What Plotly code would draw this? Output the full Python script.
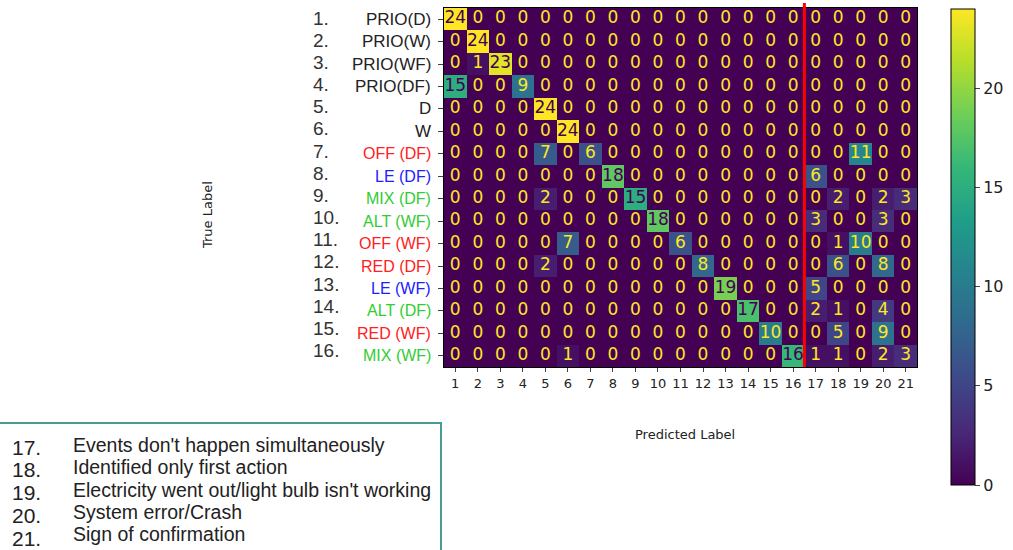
import plotly.graph_objects as go

# Confusion matrix: 16 true classes (rows) x 21 predicted classes (columns)
row_numbers = [f"{i}." for i in range(1, 17)]
row_names = ["PRIO(D)", "PRIO(W)", "PRIO(WF)", "PRIO(DF)", "D", "W",
             "OFF (DF)", "LE (DF)", "MIX (DF)", "ALT (WF)", "OFF (WF)",
             "RED (DF)", "LE (WF)", "ALT (DF)", "RED (WF)", "MIX (WF)"]
row_colors = ["#222222"] * 6 + ["#ff2020", "#2020ff", "#33cc33", "#33cc33",
                                "#ff2020", "#ff2020", "#2020ff", "#33cc33",
                                "#ff2020", "#33cc33"]
col_labels = [str(i) for i in range(1, 22)]

counts = [
    [24, 0, 0, 0, 0, 0, 0, 0, 0, 0, 0, 0, 0, 0, 0, 0, 0, 0, 0, 0, 0],
    [0, 24, 0, 0, 0, 0, 0, 0, 0, 0, 0, 0, 0, 0, 0, 0, 0, 0, 0, 0, 0],
    [0, 1, 23, 0, 0, 0, 0, 0, 0, 0, 0, 0, 0, 0, 0, 0, 0, 0, 0, 0, 0],
    [15, 0, 0, 9, 0, 0, 0, 0, 0, 0, 0, 0, 0, 0, 0, 0, 0, 0, 0, 0, 0],
    [0, 0, 0, 0, 24, 0, 0, 0, 0, 0, 0, 0, 0, 0, 0, 0, 0, 0, 0, 0, 0],
    [0, 0, 0, 0, 0, 24, 0, 0, 0, 0, 0, 0, 0, 0, 0, 0, 0, 0, 0, 0, 0],
    [0, 0, 0, 0, 7, 0, 6, 0, 0, 0, 0, 0, 0, 0, 0, 0, 0, 0, 11, 0, 0],
    [0, 0, 0, 0, 0, 0, 0, 18, 0, 0, 0, 0, 0, 0, 0, 0, 6, 0, 0, 0, 0],
    [0, 0, 0, 0, 2, 0, 0, 0, 15, 0, 0, 0, 0, 0, 0, 0, 0, 2, 0, 2, 3],
    [0, 0, 0, 0, 0, 0, 0, 0, 0, 18, 0, 0, 0, 0, 0, 0, 3, 0, 0, 3, 0],
    [0, 0, 0, 0, 0, 7, 0, 0, 0, 0, 6, 0, 0, 0, 0, 0, 0, 1, 10, 0, 0],
    [0, 0, 0, 0, 2, 0, 0, 0, 0, 0, 0, 8, 0, 0, 0, 0, 0, 6, 0, 8, 0],
    [0, 0, 0, 0, 0, 0, 0, 0, 0, 0, 0, 0, 19, 0, 0, 0, 5, 0, 0, 0, 0],
    [0, 0, 0, 0, 0, 0, 0, 0, 0, 0, 0, 0, 0, 17, 0, 0, 2, 1, 0, 4, 0],
    [0, 0, 0, 0, 0, 0, 0, 0, 0, 0, 0, 0, 0, 0, 10, 0, 0, 5, 0, 9, 0],
    [0, 0, 0, 0, 0, 1, 0, 0, 0, 0, 0, 0, 0, 0, 0, 16, 1, 1, 0, 2, 3],
]

legend_numbers = ["17.", "18.", "19.", "20.", "21."]
legend_texts = ["Events don't happen simultaneously",
                "Identified only first action",
                "Electricity went out/light bulb isn't working",
                "System error/Crash",
                "Sign of confirmation"]

W, H = 1013, 550
L, R, T, B = 444, 96, 8, 183
pw, ph = W - L - R, H - T - B


def px_x(p):
    return (p - L) / pw


def px_y(p):
    return (H - B - p) / ph


n_rows, n_cols = len(counts), len(counts[0])
xs = list(range(1, n_cols + 1))
ys = list(range(1, n_rows + 1))
zmax = max(max(r) for r in counts)
thresh = zmax / 2.0

fig = go.Figure()
fig.add_trace(go.Heatmap(
    z=counts, x=xs, y=ys, colorscale="Viridis", zmin=0, zmax=zmax,
    hoverinfo="skip",
    colorbar=dict(
        x=px_x(951), xanchor="left", xref="paper", xpad=0, ypad=0,
        y=px_y(9), yanchor="top", len=476, lenmode="pixels",
        thickness=24, thicknessmode="pixels",
        outlinecolor="black", outlinewidth=1,
        tickvals=[0, 5, 10, 15, 20], ticks="outside", ticklen=5,
        tickfont=dict(family="DejaVu Sans", size=16, color="#222222"),
    ),
))

# Cell counts, dark on bright cells and bright on dark cells
tx, ty, tt, tc = [], [], [], []
for i, row in enumerate(counts):
    for j, v in enumerate(row):
        tx.append(xs[j])
        ty.append(ys[i])
        tt.append(str(v))
        tc.append("#440154" if v >= thresh else "#fde725")
fig.add_trace(go.Scatter(
    x=tx, y=ty, text=tt, mode="text", hoverinfo="skip", showlegend=False,
    textfont=dict(family="DejaVu Sans", size=17, color=tc),
))

fig.update_xaxes(
    range=[0.5, n_cols + 0.5], tickvals=xs, ticktext=col_labels,
    ticks="outside", ticklen=4, showgrid=False, zeroline=False,
    showline=True, mirror=True, linecolor="black", linewidth=1,
    tickfont=dict(family="DejaVu Sans", size=13, color="#222222"),
)
fig.update_yaxes(
    range=[n_rows + 0.5, 0.5], tickvals=ys, showticklabels=False,
    ticks="outside", ticklen=5, showgrid=False, zeroline=False,
    showline=True, mirror=True, linecolor="black", linewidth=1,
)

annotations = []
for i in range(n_rows):
    black = row_colors[i] == "#222222"
    annotations.append(dict(
        x=px_x(311), y=ys[i] - 0.05 - 0.012 * i, xref="paper", yref="y",
        xanchor="left", yanchor="middle", showarrow=False,
        text=row_numbers[i],
        font=dict(family="Liberation Sans", size=19, color="#333333")))
    annotations.append(dict(
        x=px_x(433), y=ys[i], xref="paper", yref="y", xanchor="right",
        yanchor="middle", showarrow=False, text=row_names[i],
        font=dict(family="Liberation Sans", size=17 if black else 16,
                  color=row_colors[i])))

annotations.append(dict(
    x=px_x(208), y=px_y(215), xref="paper", yref="paper", showarrow=False,
    xanchor="center", yanchor="middle", text="True Label", textangle=-90,
    font=dict(family="DejaVu Sans", size=13, color="#222222")))
annotations.append(dict(
    x=px_x(685), y=px_y(434), xref="paper", yref="paper", showarrow=False,
    xanchor="center", yanchor="middle", text="Predicted Label",
    font=dict(family="DejaVu Sans", size=13, color="#222222")))

num_y = [447, 469, 492, 515, 538]
txt_y = [445, 467, 490, 512, 534]
for k in range(len(legend_numbers)):
    annotations.append(dict(
        x=px_x(10), y=px_y(num_y[k]), xref="paper", yref="paper",
        xanchor="left", yanchor="middle", showarrow=False,
        text=legend_numbers[k],
        font=dict(family="Liberation Sans", size=21, color="#222222")))
    annotations.append(dict(
        x=px_x(71), y=px_y(txt_y[k]), xref="paper", yref="paper",
        xanchor="left", yanchor="middle", showarrow=False,
        text=legend_texts[k],
        font=dict(family="Liberation Sans", size=19.5, color="#222222")))

shapes = [
    # separator between class columns and error columns
    dict(type="line", xref="x", yref="paper", x0=16.5, x1=16.5,
         y0=0, y1=px_y(3), line=dict(color="#ff0000", width=3)),
    # frame around the error-type key
    dict(type="rect", xref="paper", yref="paper",
         x0=px_x(-10), x1=px_x(441), y0=px_y(423), y1=px_y(570),
         line=dict(color="#4a9a95", width=2), fillcolor="rgba(0,0,0,0)"),
]

fig.update_layout(
    width=W, height=H,
    margin=dict(l=L, r=R, t=T, b=B, pad=0, autoexpand=False),
    paper_bgcolor="white", plot_bgcolor="white",
    annotations=annotations, shapes=shapes, showlegend=False,
)

fig.write_html("out.html")
